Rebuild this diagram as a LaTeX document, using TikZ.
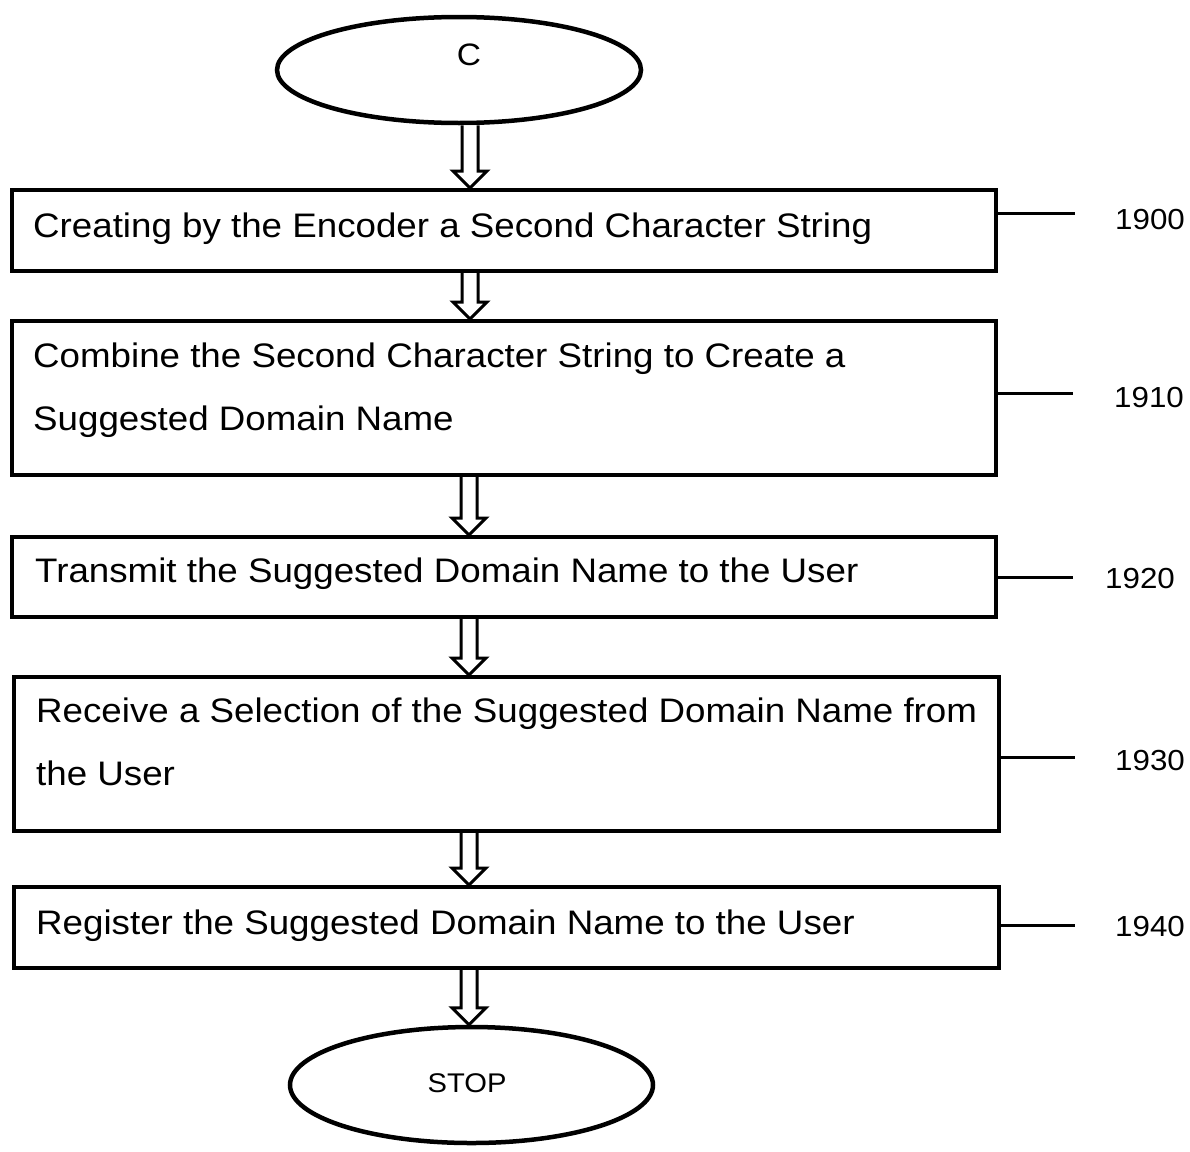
\documentclass[tikz,border=0pt]{standalone}
\usepackage{fontspec}
\setmainfont{Liberation Sans}[FakeStretch=1.08]
\usetikzlibrary{shapes.geometric,calc}
\tikzset{
  stepbox/.style={draw, line width=4pt, rectangle, inner sep=0pt},
  term/.style={draw, line width=4.5pt, ellipse, inner sep=0pt},
  boxtext/.style={anchor=base west, inner sep=0pt, align=left, font=\fontsize{34}{63}\selectfont},
  reftext/.style={anchor=base west, inner sep=0pt, font=\fontsize{29}{34}\selectfont},
  refline/.style={line width=3pt},
  flowarrow/.style={line width=3pt, fill=white, line join=miter},
}
\newcommand{\hollowarrow}[3]{%
  \draw[flowarrow] let \p1=(#2.south), \p2=(#3.north) in
    (#1-8,\y1) -- (#1-8,\y2+17pt) -- (#1-17,\y2+17pt) -- (#1,\y2) -- (#1+17,\y2+17pt) -- (#1+8,\y2+17pt) -- (#1+8,\y1);
}
\begin{document}
\begin{tikzpicture}[x=1pt,y=-1pt]
\useasboundingbox (0,0) rectangle (1190,1151);
\fill[white] (0,0) rectangle (1190,1151);

% terminals
\node[term, minimum width=364pt, minimum height=106pt] (c) at (459,70) {};
\node[anchor=base, inner sep=0pt, font=\fontsize{31}{36}\selectfont] (ctext) at (469,65) {C};

\node[term, minimum width=363pt, minimum height=116pt] (stop) at (471.5,1085) {};
\node[anchor=base, inner sep=0pt, font=\fontsize{27}{32}\selectfont] (stoptext) at (467,1092) {STOP};

% boxes
\node[stepbox, minimum width=984pt, minimum height=81pt] (b1) at (504,230.5) {};
\node[stepbox, minimum width=984pt, minimum height=154pt] (b2) at (504,398) {};
\node[stepbox, minimum width=984pt, minimum height=80pt] (b3) at (504,577) {};
\node[stepbox, minimum width=985pt, minimum height=154pt] (b4) at (506.5,754) {};
\node[stepbox, minimum width=985pt, minimum height=81pt] (b5) at (506.5,927.5) {};

% texts
\node[boxtext] (t1) at (33,237) {Creating by the Encoder a Second Character String};
\node[boxtext] (t2) at (33,430) {Combine the Second Character String to Create a\\Suggested Domain Name};
\node[boxtext] (t3) at (35,582) {Transmit the Suggested Domain Name to the User};
\node[boxtext] (t4) at (36,785) {Receive a Selection of the Suggested Domain Name from\\the User};
\node[boxtext] (t5) at (36,934) {Register the Suggested Domain Name to the User};

% arrows
\hollowarrow{470}{c}{b1}
\hollowarrow{470}{b1}{b2}
\hollowarrow{469}{b2}{b3}
\hollowarrow{469}{b3}{b4}
\hollowarrow{469}{b4}{b5}
\hollowarrow{469}{b5}{stop}

% reference lines and numbers
\coordinate (l1) at (1075,213);
\coordinate (l2) at (1073,393);
\coordinate (l3) at (1073,577);
\coordinate (l4) at (1075,757);
\coordinate (l5) at (1075,925);
\draw[refline] (b1.east |- l1) -- (l1);
\draw[refline] (b2.east |- l2) -- (l2);
\draw[refline] (b3.east |- l3) -- (l3);
\draw[refline] (b4.east |- l4) -- (l4);
\draw[refline] (b5.east |- l5) -- (l5);
\node[reftext] (r1) at (1115,229) {1900};
\node[reftext] (r2) at (1114,407) {1910};
\node[reftext] (r3) at (1105,588) {1920};
\node[reftext] (r4) at (1115,770) {1930};
\node[reftext] (r5) at (1115,936) {1940};
\end{tikzpicture}
\end{document}
